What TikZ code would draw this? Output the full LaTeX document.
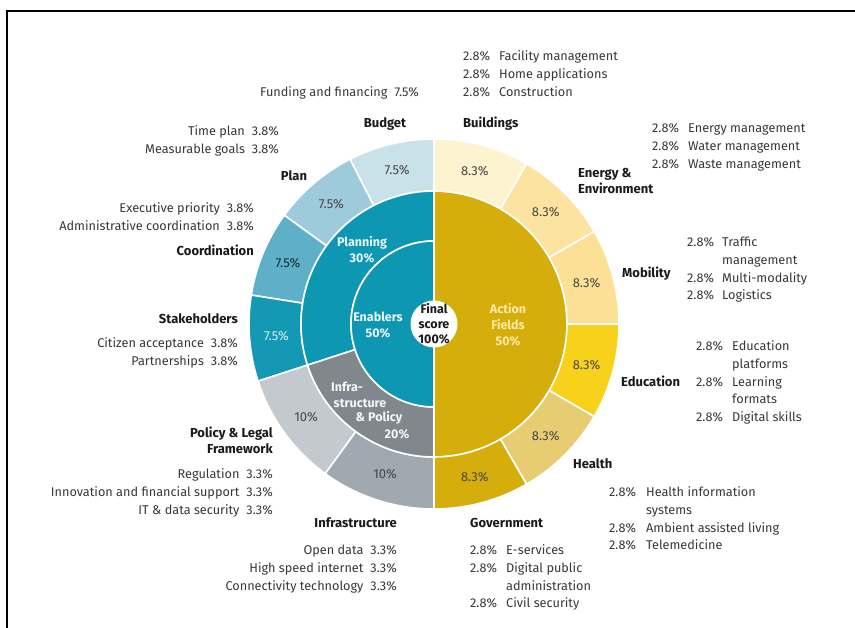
\documentclass[tikz,border=0pt]{standalone}
\usepackage{fontspec}
\setmainfont{Fira Sans}
\definecolor{budgetC}{HTML}{C9E2EA}
\definecolor{planC}{HTML}{9DCBDB}
\definecolor{coordC}{HTML}{5DB0C8}
\definecolor{stakeC}{HTML}{1499B4}
\definecolor{planningC}{HTML}{0E97B2}
\definecolor{enablersC}{HTML}{0E97B2}
\definecolor{policyC}{HTML}{C3C9CE}
\definecolor{infraC}{HTML}{A0A9B0}
\definecolor{infrapolC}{HTML}{80888E}
\definecolor{actionC}{HTML}{D5AE0C}
\definecolor{buildC}{HTML}{FDF3CE}
\definecolor{energyC}{HTML}{FCE3A0}
\definecolor{mobC}{HTML}{FBE095}
\definecolor{eduC}{HTML}{F8D11A}
\definecolor{healthC}{HTML}{E7CC72}
\definecolor{govC}{HTML}{D5AE0C}
\definecolor{txtC}{HTML}{383838}
\definecolor{hdC}{HTML}{1A1A1A}
\definecolor{pctC}{HTML}{474747}
\definecolor{afC}{HTML}{FCEBA8}
\newcommand\ringseg[5]{%
  \path[fill=#1,seg] (#2:#5) arc[start angle=#2,end angle=#3,radius=#5] -- (#3:#4) arc[start angle=#3,end angle=#2,radius=#4] -- cycle;}
\begin{document}
\begin{tikzpicture}[x=1pt,y=1pt,
 seg/.style={draw=white,line width=1.6pt,line join=round},
 lst/.style={inner sep=0pt,text=txtC,font=\fontsize{12.7}{17.8}\selectfont},
 hd/.style={inner sep=0pt,text=hdC,font=\fontsize{13}{16.5}\selectfont\bfseries},
 pct/.style={inner sep=0pt,text=pctC,font=\fontsize{13}{15}\selectfont},
 mid/.style={inner sep=0pt,text=white,font=\fontsize{12.5}{16}\selectfont\bfseries,align=center}]
\useasboundingbox (0,0) rectangle (855,628);
\fill[white] (0,0) rectangle (855,628);
\draw[line width=2.5pt,black] (7,0) -- (7,617) -- (855,617);

\begin{scope}[shift={(434,304)}]
% outer ring left
\ringseg{budgetC}{90}{117}{133}{185}
\ringseg{planC}{117}{144}{133}{185}
\ringseg{coordC}{144}{171}{133}{185}
\ringseg{stakeC}{171}{198}{133}{185}
\ringseg{policyC}{198}{234}{133}{185}
\ringseg{infraC}{234}{270}{133}{185}
% middle ring left
\ringseg{planningC}{90}{198}{83}{133}
\ringseg{infrapolC}{198}{270}{83}{133}
% inner left
\ringseg{enablersC}{90}{270}{20}{83}
% right
\ringseg{actionC}{-90}{90}{20}{133}
\ringseg{buildC}{60}{90}{133}{185}
\ringseg{energyC}{30}{60}{133}{185}
\ringseg{mobC}{0}{30}{133}{185}
\ringseg{eduC}{-30}{0}{133}{185}
\ringseg{healthC}{-60}{-30}{133}{185}
\ringseg{govC}{-90}{-60}{133}{185}
\fill[white] (0,0) circle (23.5);

% percentages in outer ring
\node[pct] (pBud) at (103.5:158) {7.5\%};
\node[pct] (pPlan) at (130.5:158) {7.5\%};
\node[pct,text=black!75!coordC] (pCoord) at (157.5:158) {7.5\%};
\node[pct,text=white!82!stakeC] (pStake) at (184.5:158) {7.5\%};
\node[pct] (pPol) at (216:158) {10\%};
\node[pct] (pInf) at (252:158) {10\%};
\node[pct] (pBuild) at (75:158) {8.3\%};
\node[pct] (pEn) at (45:158) {8.3\%};
\node[pct] (pMob) at (15:158) {8.3\%};
\node[pct] (pEdu) at (-15:158) {8.3\%};
\node[pct] (pHea) at (-45:158) {8.3\%};
\node[pct] (pGov) at (-75:158) {8.3\%};

% middle labels
\node[mid,text=white!92!planningC] (mPlanning) at (-72,74) {Planning\\30\%};
\node[mid,text=white!92!enablersC] (mEnab) at (-56,-1) {Enablers\\50\%};
\node[mid,text=afC] (mAct) at (74,-1) {Action\\Fields\\50\%};
\node[mid,text=hdC,font=\fontsize{12.5}{15}\selectfont\bfseries] (mFinal) at (0,0) {Final\\score\\100\%};
\node[mid,text=white!92!infrapolC] (mIp1) at (-87,-63) {Infra-};
\node[mid,text=white!92!infrapolC] (mIp2) at (-74,-79) {structure};
\node[mid,text=white!92!infrapolC] (mIp3) at (-55,-94) {\&~Policy};
\node[mid,text=white!92!infrapolC] (mIp4) at (-37,-110) {20\%};
\end{scope}

% ---- left side labels ----
\node[lst,anchor=base east] (lFund) at (419,531.5) {Funding and financing\hspace{7pt}7.5\%};
\node[hd,anchor=base] (hBud) at (385,500.5) {Budget};
\node[lst,anchor=base east] (lPlan) at (279,492.5) {\begin{tabular}[t]{@{}r@{}}Time plan\hspace{7pt}3.8\%\\ Measurable goals\hspace{7pt}3.8\%\end{tabular}};
\node[hd,anchor=base] (hPlan) at (294,447.5) {Plan};
\node[lst,anchor=base east] (lCoord) at (254,415.5) {\begin{tabular}[t]{@{}r@{}}Executive priority\hspace{7pt}3.8\%\\ Administrative coordination\hspace{7pt}3.8\%\end{tabular}};
\node[hd,anchor=base east] (hCoord) at (254,372.5) {Coordination};
\node[hd,anchor=base east] (hStake) at (238,304.5) {Stakeholders};
\node[lst,anchor=base east] (lStake) at (238,280.5) {\begin{tabular}[t]{@{}r@{}}Citizen acceptance\hspace{7pt}3.8\%\\ Partnerships\hspace{7pt}3.8\%\end{tabular}};
\node[hd,anchor=base east] (hPol) at (273,190.5) {\begin{tabular}[t]{@{}r@{}}Policy \& Legal\\ Framework\end{tabular}};
\node[lst,anchor=base east] (lPol) at (273,149.5) {\begin{tabular}[t]{@{}r@{}}Regulation\hspace{7pt}3.3\%\\ Innovation and financial support\hspace{7pt}3.3\%\\ IT \& data security\hspace{7pt}3.3\%\end{tabular}};
\node[hd,anchor=base east] (hInf) at (397,100.5) {Infrastructure};
\node[lst,anchor=base east] (lInf) at (397,73.5) {\begin{tabular}[t]{@{}r@{}}Open data\hspace{7pt}3.3\%\\ High speed internet\hspace{7pt}3.3\%\\ Connectivity technology\hspace{7pt}3.3\%\end{tabular}};

% ---- right side labels ----
\node[lst,anchor=base west] (lBuild) at (463,567.5) {\begin{tabular}[t]{@{}p{36pt}@{}l@{}}2.8\% & Facility management\\ 2.8\% & Home applications\\ 2.8\% & Construction\end{tabular}};
\node[hd,anchor=base west] (hBuild) at (463,500.5) {Buildings};
\node[lst,anchor=base west] (lEn) at (652,495.5) {\begin{tabular}[t]{@{}p{36pt}@{}l@{}}2.8\% & Energy management\\ 2.8\% & Water management\\ 2.8\% & Waste management\end{tabular}};
\node[hd,anchor=base west] (hEn) at (578,450.5) {\begin{tabular}[t]{@{}l@{}}Energy \&\\ Environment\end{tabular}};
\node[hd,anchor=base west] (hMob) at (622,350.5) {Mobility};
\node[lst,anchor=base west] (lMob) at (687,381.5) {\begin{tabular}[t]{@{}p{35pt}@{}l@{}}2.8\% & Traffic\\ & management\\ 2.8\% & Multi-modality\\ 2.8\% & Logistics\end{tabular}};
\node[hd,anchor=base west] (hEdu) at (621,241.5) {Education};
\node[lst,anchor=base west] (lEdu) at (696,277.5) {\begin{tabular}[t]{@{}p{36pt}@{}l@{}}2.8\% & Education\\ & platforms\\ 2.8\% & Learning\\ & formats\\ 2.8\% & Digital skills\end{tabular}};
\node[hd,anchor=base west] (hHea) at (573,159.5) {Health};
\node[lst,anchor=base west] (lHea) at (609,131.5) {\begin{tabular}[t]{@{}p{37pt}@{}l@{}}2.8\% & Health information\\ & systems\\ 2.8\% & Ambient assisted living\\ 2.8\% & Telemedicine\end{tabular}};
\node[hd,anchor=base west] (hGov) at (470,100.5) {Government};
\node[lst,anchor=base west] (lGov) at (470,73.5) {\begin{tabular}[t]{@{}p{36pt}@{}l@{}}2.8\% & E-services\\ 2.8\% & Digital public\\ & administration\\ 2.8\% & Civil security\end{tabular}};
\end{tikzpicture}
\end{document}
